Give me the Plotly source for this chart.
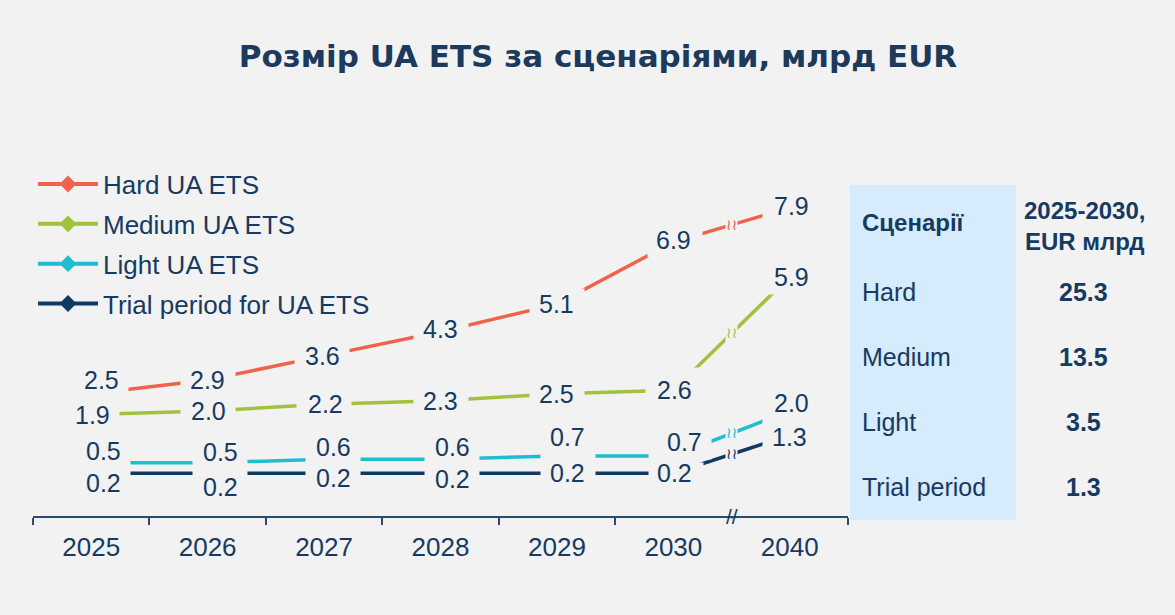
import plotly.graph_objects as go

# ---------------- data ----------------
years = ["2025", "2026", "2027", "2028", "2029", "2030", "2040"]
hard = [2.5, 2.9, 3.6, 4.3, 5.1, 6.9, 7.9]
medium = [1.9, 2.0, 2.2, 2.3, 2.5, 2.6, 5.9]
light = [0.5, 0.5, 0.6, 0.6, 0.7, 0.7, 2.0]
trial = [0.2, 0.2, 0.2, 0.2, 0.2, 0.2, 1.3]
series_names = ["Hard UA ETS", "Medium UA ETS", "Light UA ETS", "Trial period for UA ETS"]

table_headers = ["Сценарії", "2025-2030,<br>EUR млрд"]
scenarios = ["Hard", "Medium", "Light", "Trial period"]
totals = [25.3, 13.5, 3.5, 1.3]

title_text = "Розмір UA ETS за сценаріями, млрд EUR"

# ---------------- styles ----------------
BG = "#f2f2f2"
NAVY = "#163a61"
PANEL = "#d6ebfb"
colors = ["#f0634a", "#a3c23b", "#1fbdd0", "#0f3a63"]
LABEL_FONT = dict(family="Liberation Sans, Arial, sans-serif", size=25, color=NAVY)

# per-series label offsets (px) and gap masks (px)
label_dx = [
    [10, 0, -2, 0, 0, 0, 2],
    [1, 1, 1, 0, 0, 1, 2],
    [12, 13, 9, 12, 11, 11, 2],
    [12, 13, 9, 12, 11, 1, 0],
]
label_dy = [
    [14, 0, 0, 3, 0, 2, 2],
    [0, 0, 0, 0, 0, 0, 0],
    [12, 11, 12, 12, 19, 14, 8],
    [-10, -14, -5, -6, 0, 0, -2],
]
mask_dx = [
    [10, 0, -2, 0, 0, 2, 0],
    [1, 0, 0, 0, 0, 0, 0],
    [12, 12, 9, 11, 11, 7, 0],
    [12, 12, 9, 11, 11, 3, 0],
]
mask_dy = [
    [0, 0, 0, 0, 0, 0, 0],
    [0, 0, 0, 0, 0, 0, 0],
    [0, 0, 0, 0, 0, 7, 0],
    [0, 0, 0, 0, 0, 2, 0],
]
mask_w = [
    [54, 54, 54, 54, 54, 54, 54],
    [54, 54, 54, 54, 54, 54, 54],
    [54, 54, 54, 54, 54, 62, 54],
    [54, 54, 54, 54, 54, 54, 54],
]
mask_h = [
    [30, 30, 30, 30, 30, 30, 30],
    [30, 30, 30, 30, 30, 44, 35],
    [6, 6, 6, 6, 6, 20, 24],
    [6, 6, 6, 6, 6, 16, 24],
]

series = [hard, medium, light, trial]
xpos = list(range(len(years)))  # category index positions on the category axis

fig = go.Figure()

# data lines
for i, vals in enumerate(series):
    fig.add_trace(go.Scatter(
        x=years, y=vals, mode="lines",
        line=dict(color=colors[i], width=3.5),
        showlegend=False, hoverinfo="skip",
    ))

# legend entries
for i, name in enumerate(series_names):
    fig.add_trace(go.Scatter(
        x=[None], y=[None], mode="lines+markers", name=name,
        line=dict(color=colors[i], width=4),
        marker=dict(symbol="diamond", size=13, color=colors[i]),
        legendgroup=f"g{i}",
    ))

annotations = []
# gap masks at every point
for i, vals in enumerate(series):
    for j, v in enumerate(vals):
        annotations.append(dict(
            x=xpos[j], y=v, xref="x", yref="y", text=" ", showarrow=False,
            xanchor="center", yanchor="middle",
            width=mask_w[i][j], height=mask_h[i][j], borderpad=0,
            bgcolor=BG, xshift=mask_dx[i][j], yshift=mask_dy[i][j],
            font=dict(size=4),
        ))

# break marks on lines between 2030 and 2040
for i, vals in enumerate(series):
    annotations.append(dict(
        x=5.5, y=(vals[5] + vals[6]) / 2, xref="x", yref="y",
        text="≀≀", showarrow=False, xanchor="center", yanchor="middle",
        font=dict(family="DejaVu Sans", size=15, color=colors[i]),
        bgcolor=BG, borderpad=0,
    ))

# value labels
for i, vals in enumerate(series):
    for j, v in enumerate(vals):
        annotations.append(dict(
            x=xpos[j], y=v, xref="x", yref="y", text=f"{v:.1f}", showarrow=False,
            xanchor="center", yanchor="middle",
            xshift=label_dx[i][j], yshift=label_dy[i][j], font=LABEL_FONT,
        ))

# axis break: hide boundary tick and draw "//"
annotations.append(dict(
    x=5.5, y=0, xref="x", yref="paper", text=" ", showarrow=False,
    xanchor="center", yanchor="top", width=6, height=10, borderpad=0,
    bgcolor=BG, yshift=-2, font=dict(size=4),
))
annotations.append(dict(
    x=5.5, y=0, xref="x", yref="paper", text="//", showarrow=False,
    xanchor="center", yanchor="middle",
    font=dict(family="Liberation Sans", size=21, color=NAVY),
))

# ---- right-hand table ----
PLOT_L, PLOT_R, PLOT_T, PLOT_B = 33, 848, 170, 516


def px_x(px):
    return (px - PLOT_L) / (PLOT_R - PLOT_L)


def px_y(py):
    return (PLOT_B - py) / (PLOT_B - PLOT_T)


TABLE_FONT = dict(family="Liberation Sans, Arial, sans-serif", size=24, color=NAVY)
annotations.append(dict(
    x=px_x(860), y=px_y(222), xref="paper", yref="paper",
    text=f"<b>{table_headers[0]}</b>", showarrow=False,
    xanchor="left", yanchor="middle", font=TABLE_FONT,
))
annotations.append(dict(
    x=px_x(1084), y=px_y(226), xref="paper", yref="paper",
    text=f"<b>{table_headers[1]}</b>", showarrow=False,
    xanchor="center", yanchor="middle", font=TABLE_FONT, align="center",
))
row_y = [292, 357, 422, 487]
for k, (sc, tot) in enumerate(zip(scenarios, totals)):
    annotations.append(dict(
        x=px_x(860), y=px_y(row_y[k]), xref="paper", yref="paper",
        text=sc, showarrow=False, xanchor="left", yanchor="middle",
        font=dict(family="Liberation Sans, Arial, sans-serif", size=25, color=NAVY),
    ))
    annotations.append(dict(
        x=px_x(1083), y=px_y(row_y[k]), xref="paper", yref="paper",
        text=f"<b>{tot:.1f}</b>", showarrow=False, xanchor="center", yanchor="middle",
        font=dict(family="Liberation Sans, Arial, sans-serif", size=25, color=NAVY),
    ))

shapes = [dict(
    type="rect", xref="paper", yref="paper",
    x0=px_x(850), x1=px_x(1016), y0=px_y(520), y1=px_y(185),
    fillcolor=PANEL, line=dict(width=0), layer="below",
)]

fig.update_layout(
    width=1175, height=615,
    margin=dict(l=PLOT_L, r=1175 - PLOT_R, t=PLOT_T, b=615 - PLOT_B),
    paper_bgcolor=BG, plot_bgcolor=BG,
    title=dict(
        text=f"<b>{title_text}</b>", x=598 / 1175, y=1 - 56 / 615,
        xref="container", yref="container", xanchor="center", yanchor="middle",
        font=dict(family="DejaVu Sans", size=31, color="#1b3a5c"),
    ),
    xaxis=dict(
        type="category", categoryorder="array", categoryarray=years,
        range=[-0.5, 6.5], showline=True, linecolor="#2a4a6e", linewidth=2,
        ticks="outside", tickson="boundaries", ticklen=7, tickwidth=2,
        tickcolor="#2a4a6e", showgrid=False, zeroline=False,
        ticklabelstandoff=7,
        tickfont=dict(family="Liberation Sans, Arial, sans-serif", size=26, color=NAVY),
        fixedrange=True,
    ),
    yaxis=dict(visible=False, range=[-1.043, 8.99], fixedrange=True),
    legend=dict(
        x=0.0, y=1.027, xanchor="left", yanchor="top",
        bgcolor="rgba(0,0,0,0)", tracegroupgap=3, itemwidth=60,
        font=dict(family="Liberation Sans, Arial, sans-serif", size=26, color=NAVY),
    ),
    annotations=annotations,
    shapes=shapes,
    showlegend=True,
)

fig.write_html("out.html", config={"displayModeBar": False},
               post_script="document.body.style.margin='0';")
